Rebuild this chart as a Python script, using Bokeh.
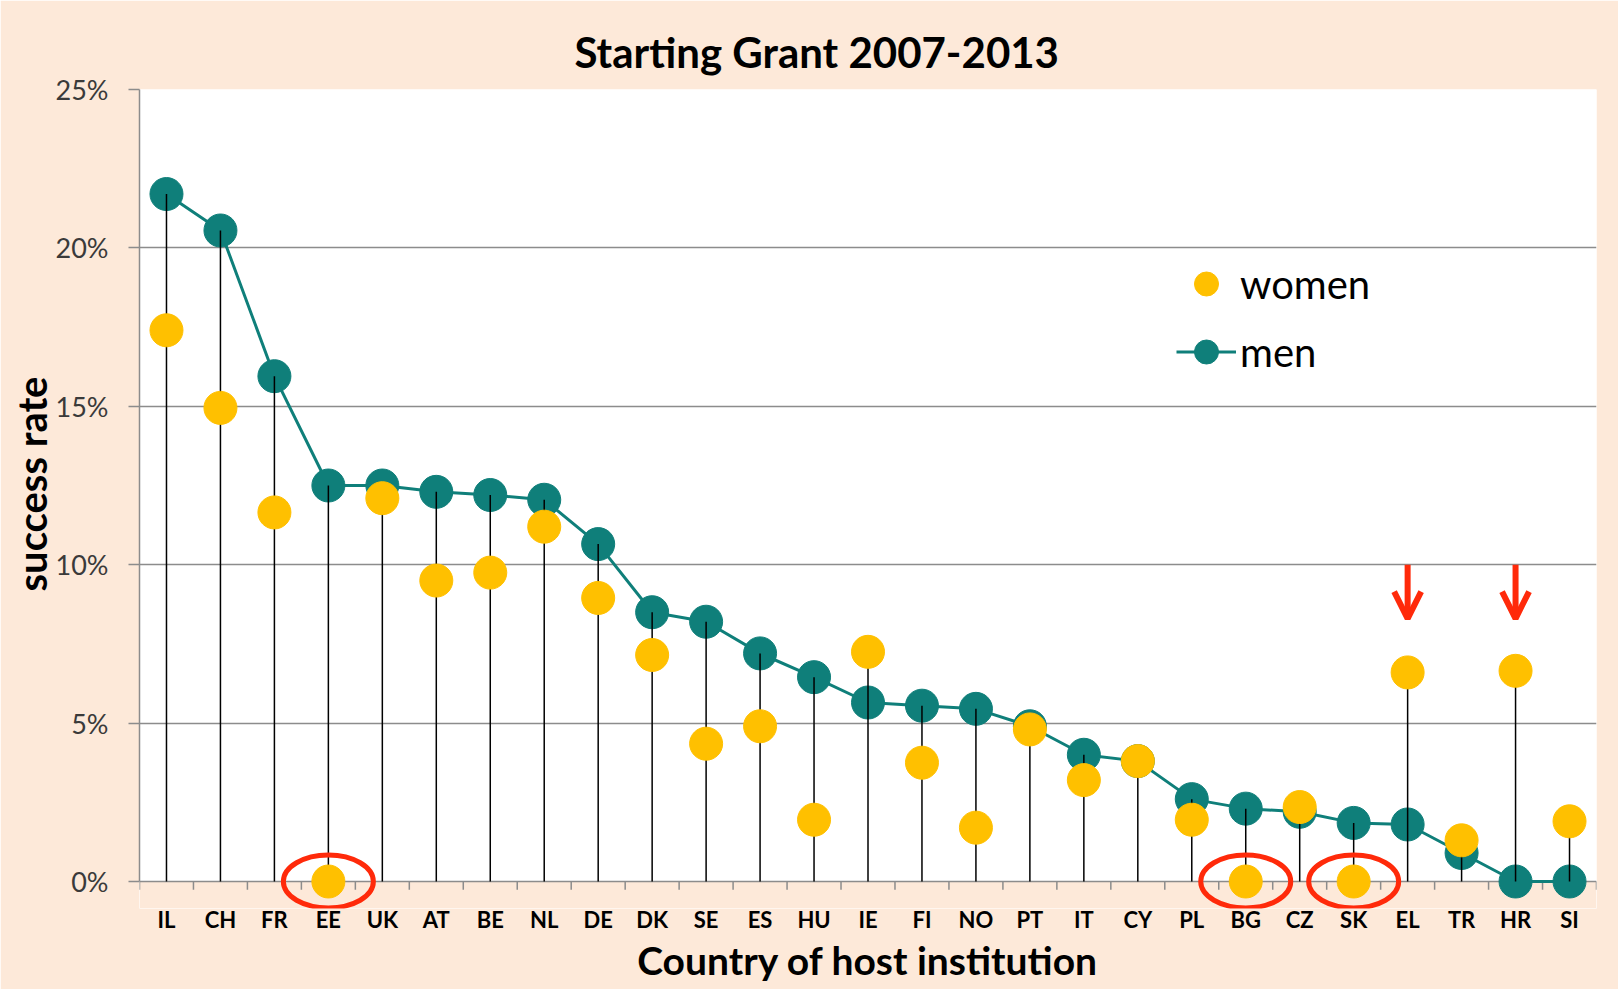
from bokeh.plotting import figure
from bokeh.models import (FactorRange, Range1d, FixedTicker, PrintfTickFormatter,
                          BoxAnnotation, Legend, LegendItem, Arrow, OpenHead, Title)
from bokeh.embed import file_html
from bokeh.resources import INLINE

countries = ["IL", "CH", "FR", "EE", "UK", "AT", "BE", "NL", "DE", "DK", "SE", "ES", "HU",
             "IE", "FI", "NO", "PT", "IT", "CY", "PL", "BG", "CZ", "SK", "EL", "TR", "HR", "SI"]
men = [21.7, 20.55, 15.95, 12.5, 12.5, 12.3, 12.2, 12.05, 10.65, 8.5, 8.2, 7.2, 6.45,
       5.65, 5.55, 5.45, 4.9, 4.0, 3.8, 2.6, 2.3, 2.2, 1.85, 1.8, 0.9, 0.0, 0.0]
women = [17.4, 14.95, 11.65, 0.0, 12.1, 9.5, 9.75, 11.2, 8.95, 7.15, 4.35, 4.9, 1.95,
         7.25, 3.75, 1.7, 4.8, 3.2, 3.8, 1.95, 0.0, 2.35, 0.0, 6.6, 1.3, 6.65, 1.9]
y_ticks = [0, 5, 10, 15, 20, 25]
circled = ["EE", "BG", "SK"]
arrowed = ["EL", "HR"]
arrow_from, arrow_to = 10.0, 8.3

TEAL = "#0F7F7A"
GOLD = "#FFC000"
PEACH = "#FDE9D9"
GRID = "#8C8C8C"
RED = "#FF2A0A"
FONT = "Lato"

stem_top = [max(m, w) for m, w in zip(men, women)]

p = figure(width=1618, height=989, output_backend="svg", toolbar_location=None,
           x_range=FactorRange(*countries), y_range=Range1d(-0.8523, 25),
           min_border_left=139, min_border_right=22, min_border_top=89, min_border_bottom=81,
           tools="")
p.background_fill_color = "white"
p.border_fill_color = PEACH
p.outline_line_color = None

# peach area below the 0 line
p.add_layout(BoxAnnotation(top=0, fill_color=PEACH, fill_alpha=1, line_color=None, level="image"))

# title
p.title.text = "Starting Grant 2007-2013"
p.title.text_font = FONT
p.title.text_font_size = "42px"
p.title.text_font_style = "bold"
p.title.text_color = "black"
p.title.align = "left"
p.title.offset = 435
p.title.standoff = 26

# grid
p.xgrid.grid_line_color = None
p.ygrid.ticker = FixedTicker(ticks=y_ticks)
p.ygrid.grid_line_color = GRID
p.ygrid.grid_line_width = 1.5

# y axis
p.yaxis.ticker = FixedTicker(ticks=y_ticks)
p.yaxis.formatter = PrintfTickFormatter(format="%d%%")
p.yaxis.bounds = (0, 25)
p.yaxis.axis_line_color = GRID
p.yaxis.axis_line_width = 1.5
p.yaxis.major_tick_line_color = GRID
p.yaxis.major_tick_line_width = 1.5
p.yaxis.major_tick_out = 11
p.yaxis.major_tick_in = 0
p.yaxis.minor_tick_out = 0
p.yaxis.minor_tick_in = 0
p.yaxis.minor_tick_line_color = None
p.yaxis.major_label_standoff = 20
p.yaxis.major_label_text_font = FONT
p.yaxis.major_label_text_font_size = "27px"
p.yaxis.major_label_text_color = "#3A3A3A"

# y axis title, placed beside the tick labels
ytitle = Title(text="success rate", align="left", offset=317, vertical_align="bottom",
               standoff=-6, text_font=FONT, text_font_size="40px", text_font_style="bold",
               text_color="black")
p.add_layout(ytitle, "left")

# x axis
p.xaxis.axis_line_color = None
p.xaxis.major_tick_line_color = None
p.xaxis.minor_tick_line_color = None
p.xaxis.major_tick_out = 0
p.xaxis.major_tick_in = 0
p.xaxis.minor_tick_out = 0
p.xaxis.minor_tick_in = 0
p.xaxis.major_label_standoff = -3
p.xaxis.major_label_text_font = FONT
p.xaxis.major_label_text_font_size = "22px"
p.xaxis.major_label_text_font_style = "bold"
p.xaxis.major_label_text_color = "black"
p.xaxis.axis_label = "Country of host institution"
p.xaxis.axis_label_text_font = FONT
p.xaxis.axis_label_text_font_size = "39px"
p.xaxis.axis_label_text_font_style = "bold"
p.xaxis.axis_label_text_color = "black"
p.xaxis.axis_label_standoff = 1

# category boundary ticks below the 0 line
bounds = list(range(len(countries) + 1))
p.segment(x0=bounds, y0=[0] * len(bounds), x1=bounds, y1=[-0.26] * len(bounds),
          line_color=GRID, line_width=1.5)

# men series
men_line = p.line(x=countries, y=men, line_color=TEAL, line_width=3)
men_pts = p.scatter(x=countries, y=men, size=33, fill_color=TEAL, line_color=TEAL)

# stems from 0 to the higher value
p.segment(x0=countries, y0=[0] * len(countries), x1=countries, y1=stem_top,
          line_color="black", line_width=1.5)

# women series
women_pts = p.scatter(x=countries, y=women, size=33, fill_color=GOLD, line_color=GOLD)

# red ellipses around zero-women countries
p.ellipse(x=circled, y=[0] * len(circled), width=90, height=53,
          width_units="screen", height_units="screen",
          fill_color=None, line_color=RED, line_width=5)

# red arrows
for c in arrowed:
    xc = countries.index(c) + 0.5
    p.add_layout(Arrow(x_start=xc, y_start=arrow_from, x_end=xc, y_end=arrow_to,
                       line_color=RED, line_width=6,
                       end=OpenHead(size=27, line_color=RED, line_width=6)))

legend = Legend(items=[LegendItem(label="women", renderers=[women_pts]),
                       LegendItem(label="men", renderers=[men_line, men_pts])],
                location=(1037, 524), padding=0, margin=0, spacing=3,
                glyph_width=60, glyph_height=65, label_height=65, label_standoff=4,
                background_fill_alpha=0, border_line_color=None,
                label_text_font=FONT, label_text_font_size="40px", label_text_color="black")
p.add_layout(legend)

open("out.html", "w").write(file_html(p, INLINE))
